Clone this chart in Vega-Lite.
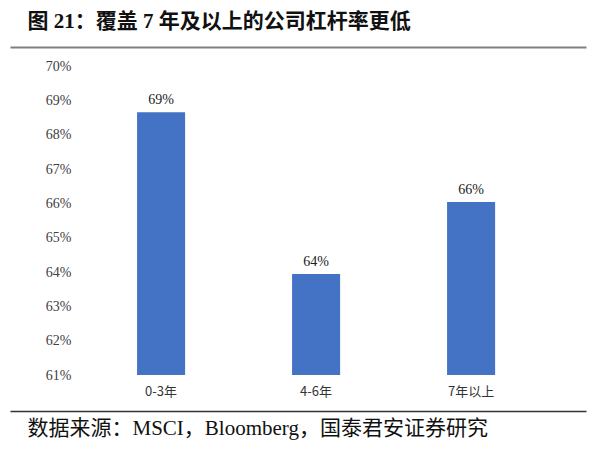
{
  "$schema": "https://vega.github.io/schema/vega-lite/v6.json",
  "width": 576,
  "height": 309,
  "autosize": {"type": "none"},
  "padding": {"left": 10, "top": 66, "right": 14, "bottom": 74},
  "background": "white",
  "config": {"view": {"stroke": null}},
  "data": {"values": [
    {"period": "0-3年", "value": 0.6865},
    {"period": "4-6年", "value": 0.6394},
    {"period": "7年以上", "value": 0.6604}
  ]},
  "resolve": {"axis": {"x": "independent", "y": "independent"}},
  "layer": [
    {
      "mark": {"type": "bar", "color": "#4472C4", "width": {"band": 1}},
      "encoding": {
        "x": {
          "field": "period", "type": "nominal", "sort": null,
          "scale": {"paddingInner": 0.69, "paddingOuter": 0.703, "align": 0.583},
          "axis": {"orient": "bottom", "title": null, "domain": false, "ticks": false, "labelAngle": 0,
                   "labelFont": "Noto Sans CJK SC", "labelFontSize": 13, "labelColor": "#333333", "labelPadding": 10}
        },
        "y": {
          "field": "value", "type": "quantitative",
          "scale": {"domain": [0.61, 0.70], "zero": false, "nice": false},
          "axis": {"title": null, "domain": false, "ticks": false, "grid": false, "format": ".0%",
                   "values": [0.61, 0.62, 0.63, 0.64, 0.65, 0.66, 0.67, 0.68, 0.69, 0.7],
                   "labelOverlap": false, "labelFlush": false, "labelBound": false,
                   "offset": -61, "labelPadding": 0, "labelFont": "Liberation Serif", "labelFontSize": 14,
                   "labelColor": "#404040"}
        },
        "y2": {"datum": 0.61}
      }
    },
    {
      "mark": {"type": "text", "baseline": "bottom", "dy": -5, "font": "Liberation Serif", "fontSize": 14, "color": "#222222"},
      "encoding": {
        "x": {
          "field": "period", "type": "nominal", "sort": null,
          "axis": {"orient": "top", "labels": false, "ticks": false, "domain": true, "domainColor": "#7f7f7f",
                   "domainWidth": 2, "offset": 19,
                   "title": "图 21：覆盖 7 年及以上的公司杠杆率更低", "titleFont": "Liberation Serif, Noto Sans CJK SC",
                   "titleFontWeight": "bold", "titleFontSize": 21, "titleColor": "#111111",
                   "titleAnchor": "start", "titleAlign": "left", "titleX": 17, "titlePadding": 16}
        },
        "y": {"field": "value", "type": "quantitative", "axis": null},
        "text": {"field": "value", "type": "quantitative", "format": ".0%"}
      }
    },
    {
      "mark": {"type": "point", "opacity": 0},
      "encoding": {
        "x": {
          "field": "period", "type": "nominal", "sort": null,
          "axis": {"orient": "bottom", "labels": false, "ticks": false, "domain": true, "domainColor": "#333333",
                   "domainWidth": 1.5, "offset": 36,
                   "title": "数据来源：MSCI，Bloomberg，国泰君安证券研究", "titleFont": "Liberation Serif, Noto Sans CJK SC",
                   "titleFontWeight": "normal", "titleFontSize": 21, "titleColor": "#111111",
                   "titleAnchor": "start", "titleAlign": "left", "titleX": 17, "titlePadding": 6}
        },
        "y": {"field": "value", "type": "quantitative", "axis": null}
      }
    }
  ]
}
